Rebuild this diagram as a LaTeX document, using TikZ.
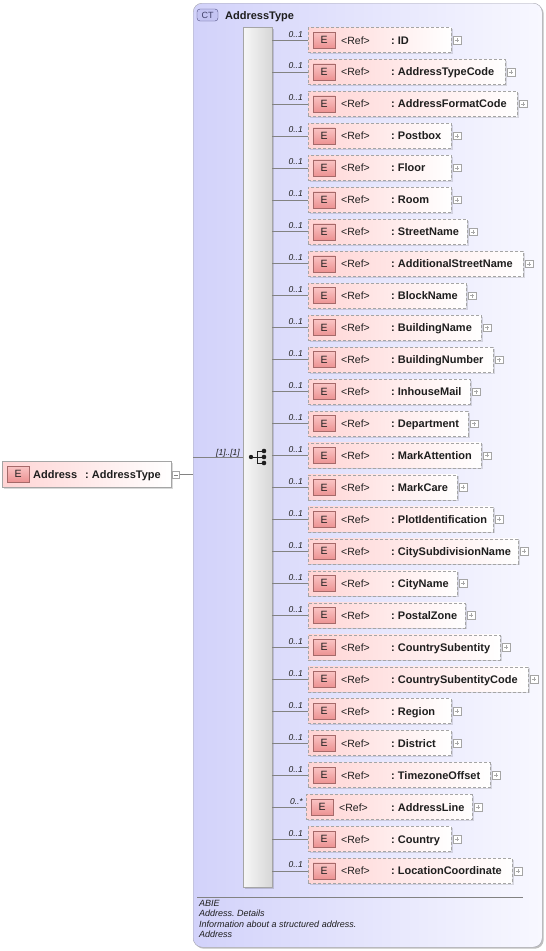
\documentclass[tikz,border=0pt]{standalone}
\usepackage{fontspec}
\setmainfont{Liberation Sans}
\usetikzlibrary{shadows}
\frenchspacing
\definecolor{ctleft}{RGB}{210,210,250}
\definecolor{ctright}{RGB}{248,248,255}
\definecolor{ctborder}{RGB}{165,165,175}
\definecolor{ctlabfill}{RGB}{196,196,242}
\definecolor{ctlabdraw}{RGB}{80,80,130}
\definecolor{elpink}{RGB}{255,212,212}
\definecolor{eltop}{RGB}{250,196,196}
\definecolor{elbot}{RGB}{236,146,146}
\definecolor{eborder}{RGB}{165,105,105}
\definecolor{boxborder}{RGB}{165,165,165}
\definecolor{lineclr}{RGB}{130,130,130}
\definecolor{txt}{RGB}{30,30,30}
\begin{document}
\begin{tikzpicture}[x=1pt,y=-1pt,
  ctbox/.style={draw=ctborder, rounded corners=9pt, left color=ctleft, right color=ctright,
    drop shadow={shadow xshift=1.5pt, shadow yshift=-1.5pt, fill=black, opacity=0.25}, inner sep=0pt},
  ctlabel/.style={draw=ctlabdraw, fill=ctlabfill, rounded corners=3pt, minimum width=21pt, minimum height=12pt,
    inner sep=0pt, font=\fontsize{9}{10}\selectfont, text=ctlabdraw!80!black},
  seqbar/.style={draw=boxborder, left color=gray!6, right color=gray!32, inner sep=0pt,
    drop shadow={shadow xshift=1.5pt, shadow yshift=-1.5pt, fill=black, opacity=0.15}},
  elbox/.style={draw=boxborder, dash pattern=on 3pt off 2pt, left color=elpink, right color=white,
    minimum height=25pt, inner sep=0pt,
    drop shadow={shadow xshift=1.5pt, shadow yshift=-1.5pt, fill=black, opacity=0.12}},
  topbox/.style={draw=boxborder, left color=elpink, right color=white,
    minimum height=26pt, inner sep=0pt,
    drop shadow={shadow xshift=1.5pt, shadow yshift=-1.5pt, fill=black, opacity=0.15}},
  eicon/.style={draw=eborder, top color=eltop, bottom color=elbot, minimum width=22pt, minimum height=16pt,
    inner sep=0pt, font=\fontsize{10.5}{12}\selectfont, text=txt},
  reftext/.style={inner sep=0pt, font=\fontsize{10.5}{12}\selectfont, text=txt},
  nametext/.style={inner sep=0pt, font=\fontsize{11}{13}\selectfont\bfseries, text=txt},
  card/.style={inner sep=0pt, font=\fontsize{8.5}{10}\selectfont\itshape, text=txt},
  pmbox/.style={draw=boxborder, fill=white, minimum width=7.5pt, minimum height=7.5pt, inner sep=0pt},
  conn/.style={draw=lineclr, line width=0.6pt},
  desc/.style={inner sep=0pt, font=\fontsize{9}{10.4}\selectfont\itshape, text=txt, align=left}
]
\useasboundingbox (0,0) rectangle (546,951);

% complex type container
\node[ctbox, minimum width=349pt, minimum height=944pt, anchor=north west] (ct) at (193,3) {};
\node[ctlabel] (ctl) at (207.5,15) {CT};
\node[nametext, anchor=base west] (ctname) at (225,19) {AddressType};

% sequence bar
\node[seqbar, minimum width=29pt, minimum height=860pt, anchor=north west] (seq) at (243,27) {};

% compositor icon
\fill[txt] (251,457) circle (2.2);
\draw[txt, line width=1pt] (251,457) -- (257,457) (257,451) -- (257,463)
  (257,451) -- (264,451) (257,457) -- (264,457) (257,463) -- (264,463);
\fill[txt] (264,451) circle (2.3) (264,457) circle (2.3) (264,463) circle (2.3);

% root element
\node[topbox, minimum width=169pt, anchor=north west] (addr) at (2,461) {};
\node[eicon, anchor=west] (addre) at ([xshift=5pt]addr.west) {E};
\node[nametext, anchor=base west] (addrn) at (33,478) {Address};
\node[nametext, anchor=base west] (addrt) at (85,478) {: AddressType};
\node[pmbox, anchor=west] (addrm) at ([xshift=0.5pt,yshift=-0.5pt]addr.east) {};
\draw[lineclr] ([xshift=-2pt]addrm.center) -- ([xshift=2pt]addrm.center);
\coordinate (cin) at (193,457);
\draw[conn] (addrm.east) -- (addrm.east -| ct.west);
\draw[conn] (cin) -- (cin -| seq.west);
\node[card, anchor=base east] (seqcard) at (240,455) {[1]..[1]};

% child elements
\foreach \nm/\rt/\cd/\sh [count=\i from 0] in {
  ID/451/0..1/0, AddressTypeCode/505/0..1/0, AddressFormatCode/517/0..1/0,
  Postbox/451/0..1/0, Floor/451/0..1/0, Room/451/0..1/0, StreetName/467/0..1/0,
  AdditionalStreetName/523/0..1/0, BlockName/466/0..1/0, BuildingName/481/0..1/0,
  BuildingNumber/493/0..1/0, InhouseMail/470/0..1/0, Department/468/0..1/0,
  MarkAttention/481/0..1/0, MarkCare/457/0..1/0, PlotIdentification/493/0..1/0,
  CitySubdivisionName/518/0..1/0, CityName/457/0..1/0, PostalZone/465/0..1/0,
  CountrySubentity/500/0..1/0, CountrySubentityCode/528/0..1/0, Region/451/0..1/0,
  District/451/0..1/0, TimezoneOffset/490/0..1/0, AddressLine/472/0..*/2,
  Country/451/0..1/0, LocationCoordinate/512/0..1/0}
{
  \pgfmathsetmacro\yy{40+31.96*\i}
  \pgfmathsetmacro\xl{308-\sh}
  \pgfmathsetmacro\ww{\rt-\xl}
  \node[elbox, minimum width=\ww pt, anchor=west] (row\i) at (\xl,\yy) {};
  \node[eicon, anchor=west] (e\i) at ([xshift=5pt]row\i.west) {E};
  \node[reftext, anchor=base west] (r\i) at (341-\sh,\yy+4) {<Ref>};
  \node[nametext, anchor=base west] (n\i) at (391,\yy+4) {: \nm};
  \node[pmbox, anchor=west] (p\i) at ([xshift=2pt]row\i.east) {};
  \draw[lineclr!70] ([xshift=-2pt]p\i.center) -- ([xshift=2pt]p\i.center)
    ([yshift=-2pt]p\i.center) -- ([yshift=2pt]p\i.center);
  \draw[conn] (seq.east |- row\i.west) -- (row\i.west);
  \node[card, anchor=base east] (c\i) at (303,\yy-3) {\cd};
}

% annotation
\coordinate (sepl) at (197,897);
\coordinate (sepr) at (523,897);
\draw[lineclr] (sepl) -- (sepr);
\node[desc, anchor=north west] (dsc) at (199,900) {ABIE\\Address. Details\\Information about a structured address.\\Address};
\end{tikzpicture}
\end{document}
